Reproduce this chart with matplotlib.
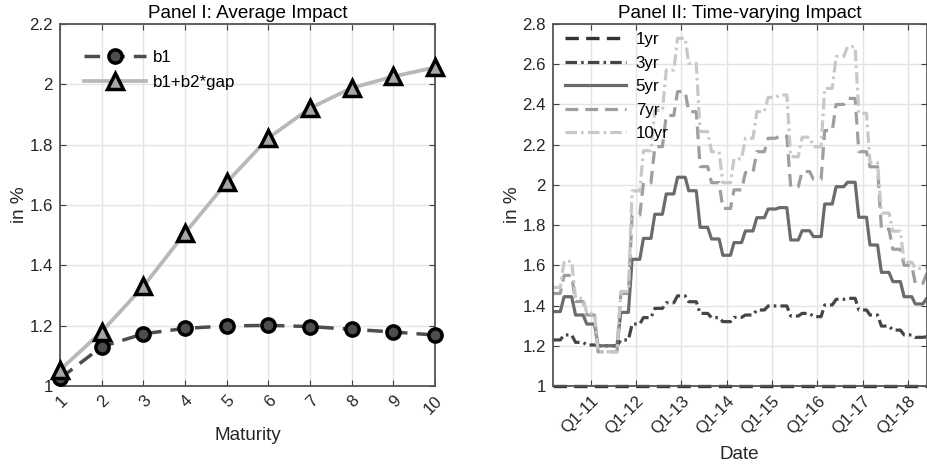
import numpy as np
import matplotlib
matplotlib.use('Agg')
import matplotlib.pyplot as plt

plt.rcParams['font.family'] = ['Liberation Sans', 'DejaVu Sans']

# Panel I: average impact by maturity
maturity = [1, 2, 3, 4, 5, 6, 7, 8, 9, 10]
b1 = [1.025, 1.13, 1.173, 1.191, 1.199, 1.201, 1.197, 1.188, 1.179, 1.169]
b1_gap = [1.053, 1.18, 1.33, 1.507, 1.675, 1.822, 1.921, 1.988, 2.026, 2.056]

# Panel II: quarterly values, observed monthly (Mar 2010 - Jun 2018)
q_1yr = [1.0] * 34
q_3yr = [1.229, 1.254, 1.217, 1.204, 1.20, 1.20, 1.229, 1.308, 1.340, 1.386,
         1.414, 1.448, 1.419, 1.361, 1.340, 1.320, 1.341, 1.353, 1.378, 1.398,
         1.398, 1.348, 1.361, 1.345, 1.403, 1.431, 1.436, 1.378, 1.353, 1.298,
         1.278, 1.254, 1.242, 1.245]
q_5yr = [1.37, 1.444, 1.353, 1.308, 1.20, 1.20, 1.366, 1.63, 1.734, 1.854,
         1.955, 2.038, 1.971, 1.789, 1.731, 1.650, 1.713, 1.771, 1.837, 1.880,
         1.887, 1.726, 1.772, 1.743, 1.905, 1.991, 2.013, 1.839, 1.701, 1.565,
         1.519, 1.444, 1.408, 1.436]
q_7yr = [1.46, 1.55, 1.42, 1.353, 1.17, 1.17, 1.46, 1.85, 2.01, 2.19,
         2.345, 2.464, 2.364, 2.091, 2.011, 1.883, 1.975, 2.061, 2.165, 2.232,
         2.243, 1.991, 2.066, 2.028, 2.27, 2.40, 2.43, 2.165, 2.09, 1.78,
         1.68, 1.60, 1.51, 1.56]
q_10yr = [1.49, 1.62, 1.436, 1.361, 1.17, 1.17, 1.47, 1.97, 2.17, 2.37,
          2.571, 2.729, 2.604, 2.265, 2.165, 2.011, 2.13, 2.232, 2.364, 2.435,
          2.447, 2.14, 2.237, 2.19, 2.48, 2.638, 2.687, 2.356, 2.11, 1.86,
          1.77, 1.615, 1.585, 1.59]
dates = np.arange('2010-03', '2018-07', dtype='datetime64[M]').astype('datetime64[D]')
tick_dates = np.array(['2011-01-01', '2012-01-01', '2013-01-01', '2014-01-01',
                       '2015-01-01', '2016-01-01', '2017-01-01', '2018-01-01'],
                      dtype='datetime64[D]')
tick_labels = ['Q1-11', 'Q1-12', 'Q1-13', 'Q1-14', 'Q1-15', 'Q1-16', 'Q1-17', 'Q1-18']

TICK_FS = 12.2
LABEL_FS = 13.6


def monthly(q):
    return np.repeat(q, 3)[:len(dates)]


def matlab_style(ax):
    ax.grid(True, color='#e4e4e4', lw=1.0)
    ax.set_axisbelow(True)
    ax.tick_params(direction='in', top=True, right=True, length=4, width=0.8,
                   color='#404040', labelcolor='#262626', labelsize=TICK_FS, pad=5)
    for s in ax.spines.values():
        s.set_color('#555555')
        s.set_linewidth(1.3)


fig = plt.figure(figsize=(9.28, 4.65), dpi=100)
ax1 = fig.add_axes([60 / 928, 79 / 465, 375 / 928, 362 / 465])
ax2 = fig.add_axes([552.7 / 928, 79 / 465, 374 / 928, 362 / 465])

# ---- Panel I
matlab_style(ax1)
ax1.plot(maturity, b1, color='#4d4d4d', lw=2.5, dashes=(4.5, 2.6),
         marker='o', ms=9.5, mfc='#4d4d4d', mec='black', mew=2.5,
         label='b1', clip_on=False, zorder=3)
ax1.plot(maturity, b1_gap, color='#b8b8b8', lw=2.7, marker='^', ms=12,
         mfc='#a6a6a6', mec='black', mew=2.5, label='b1+b2*gap',
         clip_on=False, zorder=4)
ax1.set_xlim(1, 10)
ax1.set_ylim(1, 2.2)
ax1.set_xticks(maturity)
ax1.set_yticks(np.arange(1, 2.21, 0.2))
ax1.set_yticklabels(['%g' % round(v, 1) for v in np.arange(1, 2.21, 0.2)])
for t in ax1.get_xticklabels():
    t.set(rotation=45, ha='right', va='top', rotation_mode='anchor')
ax1.set_xlabel('Maturity', fontsize=LABEL_FS, color='#262626', labelpad=7)
ax1.set_ylabel('in %', fontsize=LABEL_FS, color='#262626', labelpad=1)
ax1.set_title('Panel I: Average Impact', fontsize=LABEL_FS, pad=4)
ax1.legend(loc='upper left', frameon=False, fontsize=TICK_FS, handlelength=3.7,
           labelspacing=0.6, borderaxespad=1.0, handletextpad=0.4,
           bbox_to_anchor=(0.0, 0.995))

# ---- Panel II
matlab_style(ax2)
ax2.plot(dates, monthly(q_1yr), color='#333333', lw=2.4, dashes=(4.0, 2.2),
         label='1yr', clip_on=False)
ax2.plot(dates, monthly(q_3yr), color='#454545', lw=2.3, dashes=(3.6, 1.3, 0.8, 1.3),
         label='3yr')
ax2.plot(dates, monthly(q_5yr), color='#6b6b6b', lw=2.3, label='5yr')
ax2.plot(dates, monthly(q_7yr), color='#9e9e9e', lw=2.3, dashes=(4.0, 2.2),
         label='7yr')
ax2.plot(dates, monthly(q_10yr), color='#c8c8c8', lw=2.3, dashes=(3.6, 1.3, 0.8, 1.3),
         label='10yr')
ax2.set_xlim(dates[0], dates[-1])
ax2.set_ylim(1, 2.8)
ax2.set_yticks(np.arange(1, 2.81, 0.2))
ax2.set_yticklabels(['%g' % round(v, 1) for v in np.arange(1, 2.81, 0.2)])
ax2.set_xticks(tick_dates)
ax2.set_xticklabels(tick_labels)
for t in ax2.get_xticklabels():
    t.set(rotation=45, ha='right', va='top', rotation_mode='anchor')
ax2.set_xlabel('Date', fontsize=LABEL_FS, color='#262626', labelpad=7)
ax2.set_ylabel('in %', fontsize=LABEL_FS, color='#262626', labelpad=1)
ax2.set_title('Panel II: Time-varying Impact', fontsize=LABEL_FS, pad=4)
ax2.legend(loc='upper left', frameon=False, fontsize=TICK_FS, handlelength=3.6,
           labelspacing=0.5, borderaxespad=0.3, handletextpad=0.6,
           bbox_to_anchor=(0.0, 1.01))

fig.savefig('out.png', dpi=100)
